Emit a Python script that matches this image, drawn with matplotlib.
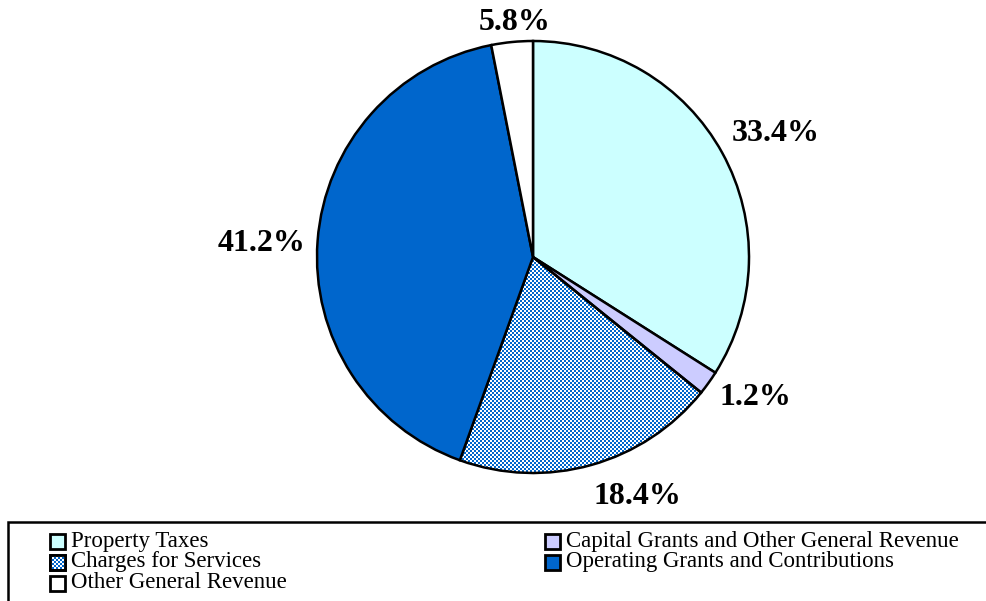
import matplotlib
matplotlib.use("Agg")
import matplotlib.pyplot as plt
import numpy as np
from matplotlib.patches import Rectangle

# ---- data ----
categories = ["Property Taxes",
              "Capital Grants and Other General Revenue",
              "Charges for Services",
              "Operating Grants and Contributions",
              "Other General Revenue"]
slice_values = [34.0, 1.8, 19.7, 41.4, 3.1]          # sizes as drawn
pct_labels = ["33.4%", "1.2%", "18.4%", "41.2%", "5.8%"]  # printed labels
legend_order = [0, 2, 4, 1, 3]

# ---- style ----
colors = ["#CCFFFF", "#CCCCFF", "none", "#0066CC", "#FFFFFF"]
hatched = [False, False, True, False, False]
label_dist = [1.26, 1.22, 1.21, 1.26, 1.09]
label_shift = [-1.7, 3.4, 7.9, 1.5, -1.1]

W, H = 987, 601
plt.rcParams["font.family"] = ["Liberation Serif", "DejaVu Serif"]
fig = plt.figure(figsize=(W / 100, H / 100), dpi=100)
ax = fig.add_axes([0, 0, 1, 1])

cx, cy, R = 533, H - 257, 216
wedges, _ = ax.pie(slice_values, colors=colors, startangle=90, counterclock=False,
                   center=(cx, cy), radius=R, frame=True,
                   wedgeprops=dict(edgecolor="black", linewidth=1.8))
ax.set_xlim(0, W)
ax.set_ylim(0, H)
ax.axis("off")

# checker pattern for hatched fill
yy, xx = np.mgrid[0:H, 0:W]
mask = ((xx // 2 + yy // 2) % 2 == 0)
pat = np.ones((H, W, 3))
blue = np.array([0x00, 0x66, 0xCC]) / 255.0
pat[mask] = blue

for w, h in zip(wedges, hatched):
    if h:
        im = ax.imshow(pat, extent=(0, W, 0, H), origin="upper",
                       interpolation="nearest", zorder=0.5)
        im.set_clip_path(w)

# percentage labels
for w, txt, d, s in zip(wedges, pct_labels, label_dist, label_shift):
    th = np.deg2rad((w.theta1 + w.theta2) / 2 + s)
    ax.text(cx + d * R * np.cos(th), cy + d * R * np.sin(th), txt,
            ha="center", va="center", fontsize=23, fontweight="bold")

# legend frame
ax.add_patch(Rectangle((8, -10), W, (H - 522) + 10, facecolor="none",
                       edgecolor="black", linewidth=1.8, zorder=3))

# manual legend
col_x = [50, 545]
row_y = [541, 562, 583]
sw = 15
for k, idx in enumerate(legend_order):
    col = 0 if k < 3 else 1
    row = k if k < 3 else k - 3
    x0 = col_x[col]
    yc = H - row_y[row]
    fc = colors[idx] if colors[idx] != "none" else "white"
    rect = Rectangle((x0, yc - sw / 2), sw, sw, facecolor=fc,
                     edgecolor="black", linewidth=2.0, zorder=4)
    ax.add_patch(rect)
    if hatched[idx]:
        im = ax.imshow(pat, extent=(0, W, 0, H), origin="upper",
                       interpolation="nearest", zorder=4.5)
        im.set_clip_path(rect)
        ax.add_patch(Rectangle((x0, yc - sw / 2), sw, sw, facecolor="none",
                               edgecolor="black", linewidth=2.0, zorder=5))
    ax.text(x0 + sw + 6, yc, categories[idx], ha="left", va="center",
            fontsize=16.5)

ax.set_xlim(0, W)
ax.set_ylim(0, H)
fig.savefig("out.png", dpi=100)
